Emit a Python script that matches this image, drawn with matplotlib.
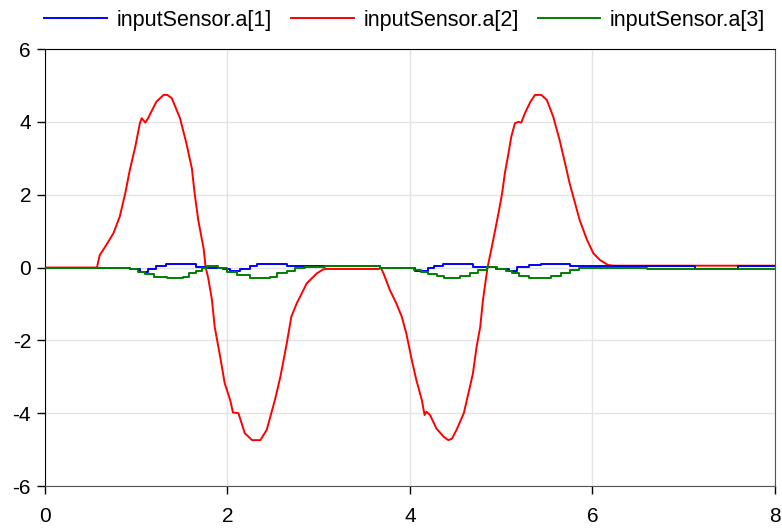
import numpy as np
import matplotlib
matplotlib.use("Agg")
import matplotlib.pyplot as plt

plt.rcParams['font.family'] = ['Liberation Sans', 'DejaVu Sans']
plt.rcParams['axes.unicode_minus'] = False

# inputSensor.a[2] (red)
red_x = [0, 0.57, 0.60, 0.66, 0.75, 0.82, 0.88, 0.93, 0.99, 1.04, 1.06, 1.10, 1.13,
         1.22, 1.30, 1.34, 1.39, 1.48, 1.55, 1.61, 1.64, 1.68, 1.74, 1.76, 1.79,
         1.83, 1.86, 1.92, 1.97, 2.03, 2.06, 2.12, 2.19, 2.27, 2.36, 2.43, 2.52,
         2.58, 2.65, 2.70, 2.76, 2.87, 2.98, 3.05, 3.08, 3.66, 3.68, 3.71, 3.78,
         3.85, 3.91, 3.96, 4.02, 4.07, 4.13, 4.16, 4.18, 4.22, 4.29, 4.37, 4.42,
         4.46, 4.51, 4.59, 4.64, 4.69, 4.73, 4.77, 4.80, 4.85, 4.90, 4.97, 5.01,
         5.04, 5.08, 5.11, 5.15, 5.19, 5.22, 5.26, 5.32, 5.37, 5.44, 5.50, 5.57,
         5.64, 5.70, 5.75, 5.81, 5.86, 5.94, 6.01, 6.08, 6.17, 6.23, 8.0]
red_y = [0, 0, 0.34, 0.57, 0.94, 1.40, 2.04, 2.68, 3.32, 3.96, 4.10, 3.98, 4.10,
         4.55, 4.74, 4.74, 4.65, 4.10, 3.41, 2.72, 2.04, 1.30, 0.50, 0.02, -0.30,
         -0.89, -1.63, -2.45, -3.18, -3.64, -3.98, -4.00, -4.55, -4.74, -4.74, -4.46, -3.64,
         -3.00, -2.08, -1.35, -0.98, -0.43, -0.16, -0.05, -0.04, -0.04, 0.0, -0.16, -0.62,
         -0.98, -1.35, -1.81, -2.54, -3.09, -3.64, -4.05, -3.96, -4.05, -4.42, -4.65, -4.74,
         -4.70, -4.46, -4.00, -3.46, -2.91, -2.18, -1.63, -0.89, 0.0, 0.60, 1.49, 2.04,
         2.59, 3.14, 3.59, 3.96, 4.00, 3.98, 4.24, 4.55, 4.74, 4.74, 4.60, 4.14,
         3.50, 2.86, 2.31, 1.76, 1.30, 0.76, 0.39, 0.21, 0.07, 0.05, 0.05]

# inputSensor.a[1] (blue), held values
blue_x = [0, 0.93, 1.04, 1.13, 1.22, 1.33, 1.66, 1.75, 1.95, 2.03, 2.14, 2.25, 2.32,
          2.65, 3.07, 3.67, 4.05, 4.20, 4.26, 4.36, 4.69, 4.94, 5.08, 5.17, 5.30,
          5.44, 5.75, 7.12, 7.60, 8.0]
blue_y = [0, -0.05, -0.11, -0.04, 0.04, 0.10, 0.02, 0.0, -0.05, -0.10, -0.05, 0.04, 0.10,
          0.05, 0.04, 0.0, -0.09, 0.0, 0.04, 0.10, 0.02, -0.05, -0.09, 0.02, 0.07,
          0.11, 0.05, -0.03, 0.03, 0.03]

# inputSensor.a[3] (green), held values
green_x = [0, 0.93, 1.02, 1.10, 1.20, 1.34, 1.51, 1.58, 1.65, 1.72, 1.78, 1.90, 1.99,
           2.10, 2.25, 2.47, 2.54, 2.65, 2.74, 2.85, 3.07, 3.67, 4.04, 4.12, 4.20,
           4.30, 4.37, 4.55, 4.66, 4.75, 4.84, 4.95, 5.05, 5.12, 5.20, 5.30, 5.55,
           5.65, 5.75, 5.85, 6.60, 7.00, 8.0]
green_y = [0, -0.05, -0.11, -0.18, -0.25, -0.30, -0.25, -0.16, -0.09, -0.02, 0.04, 0.0, -0.11,
           -0.20, -0.30, -0.25, -0.16, -0.09, -0.02, 0.02, 0.04, -0.02, -0.06, -0.12, -0.18,
           -0.24, -0.29, -0.22, -0.14, -0.06, 0.02, -0.04, -0.10, -0.16, -0.22, -0.29, -0.24,
           -0.15, -0.07, 0.0, -0.03, -0.03, -0.03]

fig = plt.figure(figsize=(7.82, 5.30), dpi=100)
ax = fig.add_axes([0.0575, 0.083, 0.9335, 0.8245])

ax.plot(blue_x, blue_y, color='#0000ff', lw=1.4, drawstyle='steps-post',
        label='inputSensor.a[1]', zorder=3)
ax.plot(red_x, red_y, color='#ff0000', lw=1.4, label='inputSensor.a[2]', zorder=2)
ax.plot(green_x, green_y, color='#008000', lw=1.4, drawstyle='steps-post',
        label='inputSensor.a[3]', zorder=4)

ax.set_xlim(0, 8)
ax.set_ylim(-6, 6)
ax.set_xticks([0, 2, 4, 6, 8])
ax.set_yticks([-6, -4, -2, 0, 2, 4, 6])
ax.grid(True, color='#e4e4e4', lw=1.0)
ax.set_axisbelow(True)
ax.tick_params(direction='out', length=6, width=1, labelsize=15, pad=4,
               colors='black')
ax.tick_params(axis='x', pad=9)

ax.spines['left'].set_color('black')
ax.spines['top'].set_color('black')
ax.spines['bottom'].set_color('#555555')
ax.spines['right'].set_color('#555555')

ax.legend(loc='lower center', bbox_to_anchor=(0.493, 1.037), ncol=3, frameon=False,
          fontsize=15.5, handlelength=2.9, handletextpad=0.45, columnspacing=0.9,
          borderaxespad=0.0, borderpad=0.1)

fig.savefig('out.png', dpi=100)
